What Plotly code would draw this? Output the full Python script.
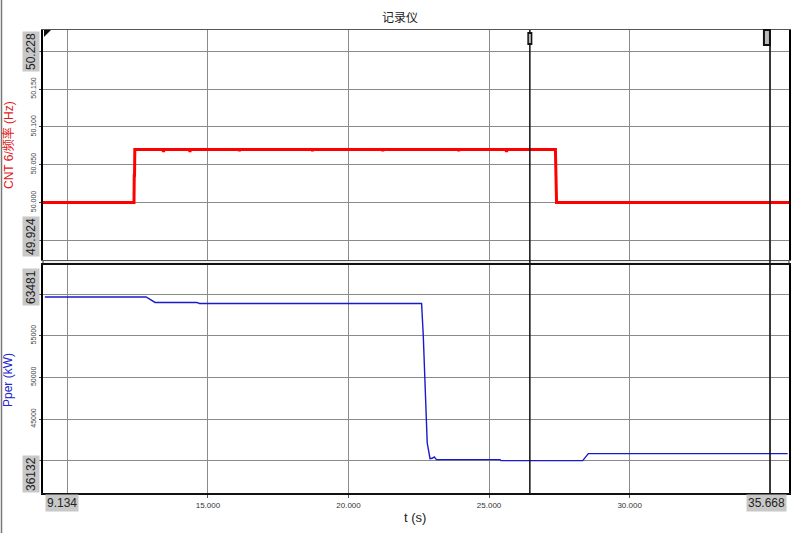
import plotly.graph_objects as go

# ---- data ----
x_min, x_max = 9.134, 35.668
freq_min, freq_max = 49.924, 50.228
pow_min, pow_max = 36132, 63481

freq_t = [9.134, 12.37, 12.38, 12.39, 12.40, 13.40, 13.42, 13.44, 14.34, 14.36, 14.38,
          16.10, 16.12, 16.14, 18.70, 18.72, 18.74, 21.20, 21.22, 21.24, 23.90, 23.92,
          23.94, 25.60, 25.62, 25.64, 27.36, 27.37, 27.39, 27.40, 35.668]
freq_v = [50.000, 50.000, 50.036, 50.036, 50.070, 50.070, 50.067, 50.070, 50.070, 50.067, 50.070,
          50.070, 50.068, 50.070, 50.070, 50.068, 50.070, 50.070, 50.068, 50.070, 50.070, 50.068,
          50.070, 50.070, 50.067, 50.070, 50.070, 50.034, 50.034, 50.000, 50.000]

pow_t = [9.20, 12.80, 13.12, 14.60, 14.70, 22.60, 22.66, 22.72, 22.76, 22.80, 22.90,
         22.98, 23.05, 23.13, 25.39, 25.42, 28.33, 28.53, 35.62]
pow_v = [59640, 59640, 58990, 58990, 58870, 58870, 55000, 49700, 45000, 42130, 40250,
         40300, 40450, 40130, 40130, 40010, 40010, 40850, 40850]

x_grid = [10, 15, 20, 25, 30, 35]
x_labels = ["", "15.000", "20.000", "25.000", "30.000", ""]
freq_grid = [49.95, 50.0, 50.05, 50.1, 50.15, 50.2]
freq_labels = ["", "50.000", "50.050", "50.100", "50.150", ""]
pow_grid = [40000, 45000, 50000, 55000, 60000]
pow_labels = ["", "45000", "50000", "55000", ""]

cursors = [26.45, 34.99]

title_text = "记录仪"
freq_title = "CNT 6/频率 (Hz)"
pow_title = "Pper (kW)"
x_title = "t (s)"

# ---- figure ----
W, H = 798, 533
L, R, T, B = 43, 9, 30, 40
pw, ph = W - L - R, H - T - B


def px(xp):
    return (xp - L) / pw


def py(yp):
    return (H - B - yp) / ph


fig = go.Figure()
fig.add_trace(go.Scatter(x=freq_t, y=freq_v, mode="lines", xaxis="x", yaxis="y",
                         line=dict(color="#ff0000", width=3), showlegend=False))
fig.add_trace(go.Scatter(x=pow_t, y=pow_v, mode="lines", xaxis="x2", yaxis="y2",
                         line=dict(color="#1a1acc", width=1.4), showlegend=False))

grid_c = "#8a8a8a"
tickfont_y = dict(family="Liberation Sans, Arial", size=7, color="#444")
tickfont_x = dict(family="Liberation Sans, Arial", size=8, color="#333")

common_x = dict(range=[x_min, x_max], tickvals=x_grid, showgrid=True, gridcolor=grid_c,
                gridwidth=1, zeroline=False, showline=True, mirror=True, automargin=False)

fig.update_layout(
    template="none",
    width=W, height=H,
    margin=dict(l=L, r=R, t=T, b=B, autoexpand=False),
    paper_bgcolor="white", plot_bgcolor="white",
    font=dict(family="Liberation Sans, Arial, Noto Sans CJK SC"),
    xaxis=dict(**common_x, domain=[0, 1], anchor="y", ticktext=["" for _ in x_grid],
               linecolor="#555", linewidth=1, ticks=""),
    yaxis=dict(range=[freq_min, freq_max], domain=[py(260), 1.0], anchor="x", automargin=False,
               tickvals=freq_grid, ticktext=freq_labels, tickangle=-90, tickfont=tickfont_y,
               showgrid=True, gridcolor=grid_c, zeroline=False, showline=True, mirror=True,
               linecolor="#000", linewidth=2, ticks="outside", ticklen=2, tickcolor="#444"),
    xaxis2=dict(**common_x, domain=[0, 1], anchor="y2", ticktext=x_labels, tickfont=tickfont_x,
                linecolor="#111", linewidth=2, ticks="outside", ticklen=3, tickcolor="#555"),
    yaxis2=dict(range=[pow_min, pow_max], domain=[0, py(265)], anchor="x2", automargin=False,
                tickvals=pow_grid, ticktext=pow_labels, tickangle=-90, tickfont=tickfont_y,
                showgrid=True, gridcolor=grid_c, zeroline=False, showline=True, mirror=True,
                linecolor="#000", linewidth=2, ticks="outside", ticklen=2, tickcolor="#444"),
)

shapes = []
# cursor lines
for c in cursors:
    shapes.append(dict(type="line", xref="x", yref="paper", x0=c, x1=c, y0=0, y1=1,
                       line=dict(color="#111", width=1.5)))
# cursor handles
shapes.append(dict(type="rect", xref="x", yref="paper", xsizemode="pixel", xanchor=cursors[0],
                   x0=-2.5, x1=2.5, y0=py(45), y1=py(32), fillcolor="#111", line=dict(width=0)))
shapes.append(dict(type="rect", xref="x", yref="paper", xsizemode="pixel", xanchor=cursors[0],
                   x0=-1, x1=1, y0=py(43), y1=py(34), fillcolor="#bbb", line=dict(width=0)))
shapes.append(dict(type="rect", xref="x", yref="paper", xsizemode="pixel", xanchor=cursors[1],
                   x0=-7, x1=1, y0=py(46), y1=py(29), fillcolor="#111", line=dict(width=0)))
shapes.append(dict(type="rect", xref="x", yref="paper", xsizemode="pixel", xanchor=cursors[1],
                   x0=-5, x1=-1, y0=py(44), y1=py(31), fillcolor="#bbb", line=dict(width=0)))
# separator band between panels
shapes.append(dict(type="rect", xref="paper", yref="paper", x0=0, x1=1, y0=py(264.5), y1=py(260.5),
                   fillcolor="#f0f0f0", line=dict(color="#555", width=1.2), layer="below"))
# window left edge
shapes.append(dict(type="line", xref="paper", yref="paper", x0=px(1.5), x1=px(1.5), y0=py(533), y1=py(0),
                   line=dict(color="#777", width=1.5)))
# corner triangle
shapes.append(dict(type="path", xref="paper", yref="paper",
                   path=f"M {px(44)} {py(30)} L {px(51)} {py(30)} L {px(44)} {py(37)} Z",
                   fillcolor="#111", line=dict(width=0)))
fig.update_layout(shapes=shapes)

box = dict(bgcolor="#c8c8c8", borderpad=1, font=dict(family="Liberation Sans, Arial", size=12, color="#222"),
           showarrow=False, xref="paper", yref="paper", xanchor="center", yanchor="middle")
plain = dict(showarrow=False, xref="paper", yref="paper", xanchor="center", yanchor="middle")
ann = [
    dict(text=f"{freq_max:.3f}", x=px(31), y=py(52), textangle=-90, **box),
    dict(text=f"{freq_min:.3f}", x=px(31), y=py(237), textangle=-90, **box),
    dict(text=f"{pow_max}", x=px(31), y=py(287), textangle=-90, **box),
    dict(text=f"{pow_min}", x=px(31), y=py(474), textangle=-90, **box),
    dict(text=f"{x_min:.3f}", x=px(62), y=py(503), **box),
    dict(text=f"{x_max:.3f}", x=px(766), y=py(503), **box),
    dict(text=title_text, x=px(400), y=py(16), font=dict(family="Noto Sans CJK SC", size=12, color="#222"), **plain),
    dict(text=x_title, x=px(415), y=py(517), font=dict(family="Liberation Sans, Arial", size=13, color="#222"), **plain),
    dict(text=freq_title, x=px(8), y=py(145), textangle=-90,
         font=dict(family="Liberation Sans, Arial, Noto Sans CJK SC", size=12, color="#e01818"), **plain),
    dict(text=pow_title, x=px(8), y=py(380), textangle=-90,
         font=dict(family="Liberation Sans, Arial", size=12, color="#2323d0"), **plain),
]
fig.update_layout(annotations=ann)

fig.write_html("out.html", config={"displayModeBar": False},
               post_script="document.body.style.margin='0';document.body.style.overflow='hidden';")
